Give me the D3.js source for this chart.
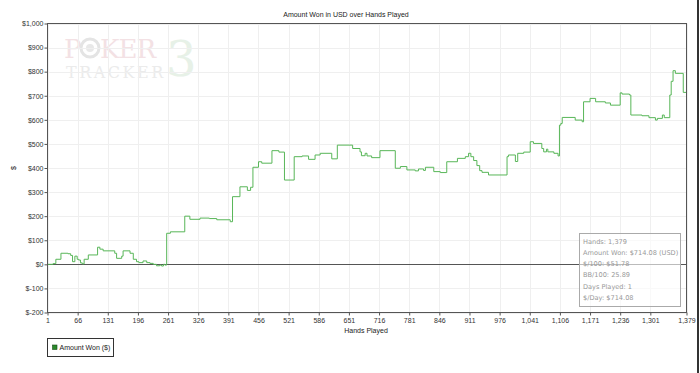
<!DOCTYPE html>
<html>
<head>
<meta charset="utf-8">
<script src="https://cdn.jsdelivr.net/npm/d3@7"></script>
<style>
  body { margin: 0; background: #fff; }
  svg { display: block; }
</style>
</head>
<body>
<div id="chart"></div>
<script>
// hands played (x) and cumulative amount won in $ (y)
var hands = [1, 13, 19, 30, 45, 51, 55, 60, 65, 68, 72, 76, 80, 89, 109, 114, 121, 146, 150, 161, 164, 179, 186, 193, 198, 207, 215, 222, 229, 236, 243, 247, 251, 254,
  258, 266, 297, 308, 330, 350, 366, 395, 400, 416, 432, 439, 444, 456, 463, 485, 500, 512, 533, 550, 564, 578, 589, 614, 626,
  659, 675, 678, 686, 690, 700, 718, 751, 762, 776, 794, 801, 812, 816, 834, 848, 862, 885, 902, 909, 914, 920, 927, 933, 938, 952,
  992, 995, 1010, 1015, 1028, 1042, 1049, 1067, 1071, 1077, 1080, 1093, 1102, 1105, 1108, 1111, 1139, 1154, 1157, 1171, 1183, 1204, 1215,
  1236, 1240, 1256, 1259, 1283, 1298, 1312, 1316, 1327, 1331, 1343, 1346, 1350, 1355, 1372, 1379];
var amounts = [0, 3, 21, 46, 44, 37, 11, 34, 21, 18, 6, 2, 21, 39, 71, 63, 56, 46, 25, 34, 56, 46, 21, 11, 7, 14, 7, 4, 0, -6, -3, -7, 0, -3,
  129, 135, 200, 187, 192, 190, 185, 177, 281, 322, 307, 320, 403, 426, 420, 472, 466, 350, 447, 450, 436, 454, 461, 438, 495,
  481, 467, 451, 461, 450, 443, 472, 399, 406, 392, 388, 396, 390, 403, 385, 381, 426, 440, 447, 461, 447, 431, 410, 389, 382, 371,
  447, 454, 427, 461, 466, 509, 502, 481, 467, 478, 467, 461, 450, 578, 585, 610, 599, 592, 675, 689, 675, 670, 661,
  712, 707, 703, 620, 617, 609, 599, 606, 620, 609, 703, 760, 804, 793, 714, 714.08];

var xTicks = [1, 66, 131, 196, 261, 326, 391, 456, 521, 586, 651, 716, 781, 846, 911, 976, 1041, 1106, 1171, 1236, 1301, 1379];
var yTicks = [-200, -100, 0, 100, 200, 300, 400, 500, 600, 700, 800, 900, 1000];

var statLines = ["Hands: 1,379", "Amount Won: $714.08 (USD)", "$/100: $51.78", "BB/100: 25.89", "Days Played: 1", "$/Day: $714.08"];

var W = 700, H = 373;
var plot = { left: 47.5, right: 686.5, top: 23.5, bottom: 312.5 };

var svg = d3.select("#chart").append("svg")
  .attr("width", W).attr("height", H);

var x = d3.scaleLinear().domain([1, 1379]).range([plot.left, plot.right]);
var y = d3.scaleLinear().domain([-200, 1000]).range([plot.bottom, plot.top]);

var comma = d3.format(",");
var fmt = d => comma(d).replace("\u2212", "-");

// watermark logo
var logo = svg.append("g").attr("font-family", "'DejaVu Serif', 'Liberation Serif', serif");
logo.append("text").attr("x", 64).attr("y", 58).attr("font-size", 26).attr("fill", "#f3e1e4").text("P");
logo.append("circle").attr("cx", 90).attr("cy", 48).attr("r", 9).attr("fill", "none").attr("stroke", "#e4e4e4").attr("stroke-width", 3);
logo.append("circle").attr("cx", 90).attr("cy", 48).attr("r", 4).attr("fill", "#e8e8e8");
logo.append("text").attr("x", 100).attr("y", 58).attr("font-size", 26).attr("letter-spacing", -1).attr("fill", "#f3e1e4").text("KER");
logo.append("text").attr("x", 66).attr("y", 78).attr("font-size", 16).attr("letter-spacing", 2.5).attr("fill", "#ebebeb").text("TRACKER");
logo.append("text").attr("x", 166).attr("y", 76).attr("font-size", 48).attr("fill", "#e2eee2").attr("opacity", 0.8).text("3");

// grid
svg.append("g").selectAll("line.vg").data(xTicks).enter().append("line")
  .attr("x1", d => Math.round(x(d)) + 0.5).attr("x2", d => Math.round(x(d)) + 0.5)
  .attr("y1", plot.top).attr("y2", plot.bottom)
  .attr("stroke", "#efefef");
svg.append("g").selectAll("line.hg").data(yTicks).enter().append("line")
  .attr("x1", plot.left).attr("x2", plot.right)
  .attr("y1", d => Math.round(y(d)) + 0.5).attr("y2", d => Math.round(y(d)) + 0.5)
  .attr("stroke", "#efefef");

// zero line
svg.append("line")
  .attr("x1", plot.left).attr("x2", plot.right)
  .attr("y1", Math.round(y(0)) + 0.5).attr("y2", Math.round(y(0)) + 0.5)
  .attr("stroke", "#555");

// stats box
var box = svg.append("g").attr("transform", "translate(579.5,233.5)");
box.append("rect").attr("width", 101).attr("height", 73)
  .attr("fill", "rgba(255,255,255,0.6)").attr("stroke", "#aaa");
box.selectAll("text").data(statLines).enter().append("text")
  .attr("x", 3.5).attr("y", (d, i) => 10 + i * 11.3)
  .attr("font-family", "'DejaVu Sans', sans-serif").attr("font-size", 6.6)
  .attr("fill", "#999").text(d => d);

// the line
var pts = hands.map((h, i) => [h, amounts[i]]);
var line = d3.line().x(d => x(d[0])).y(d => y(d[1])).curve(d3.curveStepAfter);
svg.append("path").datum(pts)
  .attr("d", line).attr("fill", "none")
  .attr("stroke", "#58b658").attr("stroke-width", 1);

// plot border
svg.append("rect")
  .attr("x", plot.left).attr("y", plot.top)
  .attr("width", plot.right - plot.left).attr("height", plot.bottom - plot.top)
  .attr("fill", "none").attr("stroke", "#555");

// axes
var xAxis = d3.axisBottom(x).tickValues(xTicks).tickFormat(fmt).tickSizeOuter(0).tickSize(3);
var yAxis = d3.axisLeft(y).tickValues(yTicks).tickFormat(d => "$" + fmt(d)).tickSizeOuter(0).tickSize(3);

var gx = svg.append("g").attr("transform", "translate(0," + plot.bottom + ")").call(xAxis);
var gy = svg.append("g").attr("transform", "translate(" + plot.left + ",0)").call(yAxis);
[gx, gy].forEach(g => {
  g.select(".domain").remove();
  g.selectAll("line").attr("stroke", "#555");
  g.selectAll("text").attr("font-family", "'Liberation Sans', Arial, sans-serif")
    .attr("font-size", 7).attr("fill", "#333");
});
gx.selectAll("text").attr("dy", "0.95em").attr("y", 4);
gy.selectAll("text").attr("x", -4);

// titles
svg.append("text").attr("x", 346).attr("y", 17).attr("text-anchor", "middle")
  .attr("font-family", "'Liberation Sans', Arial, sans-serif").attr("font-size", 7)
  .attr("fill", "#222").text("Amount Won in USD over Hands Played");
svg.append("text").attr("x", 366).attr("y", 333).attr("text-anchor", "middle")
  .attr("font-family", "'Liberation Sans', Arial, sans-serif").attr("font-size", 7)
  .attr("fill", "#222").text("Hands Played");
svg.append("text").attr("transform", "translate(16,168) rotate(-90)").attr("text-anchor", "middle")
  .attr("font-family", "'Liberation Sans', Arial, sans-serif").attr("font-size", 7)
  .attr("fill", "#222").text("$");

// legend
var leg = svg.append("g").attr("transform", "translate(47.5,338.5)");
leg.append("rect").attr("width", 66).attr("height", 18).attr("fill", "#fff").attr("stroke", "#333");
leg.append("rect").attr("x", 5).attr("y", 6.5).attr("width", 4.5).attr("height", 4.5)
  .attr("fill", "#2a8a2a").attr("stroke", "#1a4a1a").attr("stroke-width", 0.6);
leg.append("text").attr("x", 12).attr("y", 11.5)
  .attr("font-family", "'Liberation Sans', Arial, sans-serif").attr("font-size", 7)
  .attr("fill", "#222").text("Amount Won ($)");

// dark edge on the right
svg.append("rect").attr("x", 697).attr("y", 0).attr("width", 2).attr("height", H).attr("fill", "#333");
</script>
</body>
</html>
